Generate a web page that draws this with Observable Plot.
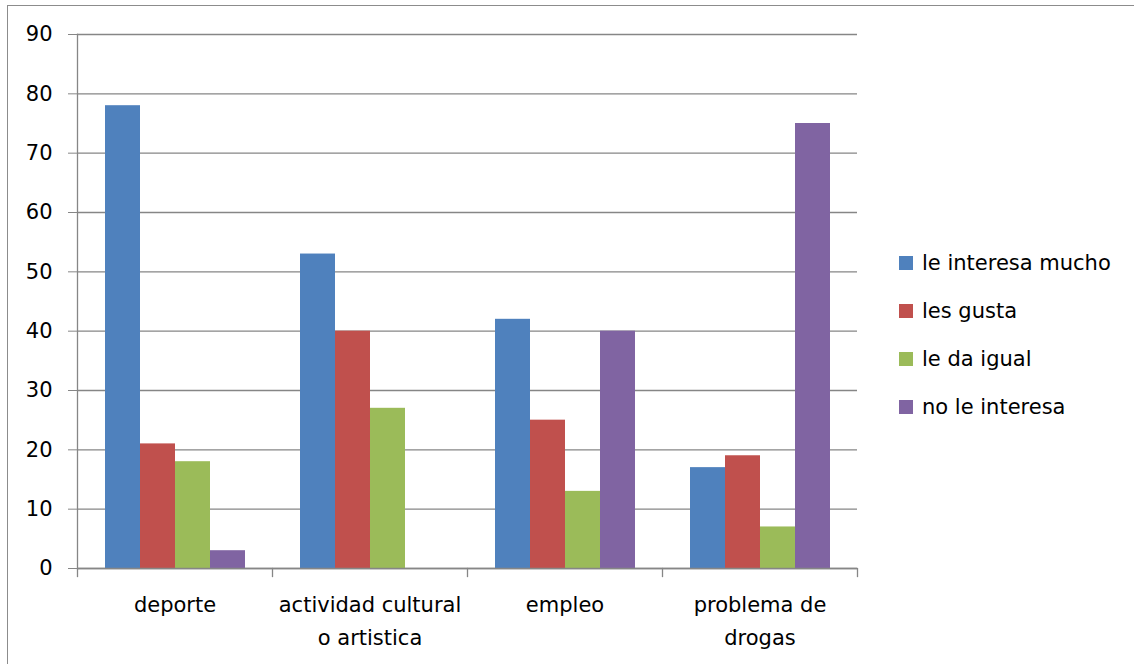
<!DOCTYPE html>
<html>
<head>
<meta charset="utf-8">
<script src="https://cdn.jsdelivr.net/npm/d3@7"></script>
<script src="https://cdn.jsdelivr.net/npm/@observablehq/plot@0.6"></script>
<style>
  html, body { margin: 0; padding: 0; background: #fff; overflow: hidden; }
  #wrap { position: relative; width: 1134px; height: 664px; }
  #border { position: absolute; left: 7px; top: 5px; width: 1140px; height: 670px;
            border-left: 1.5px solid #8c8c8c; border-top: 1.5px solid #8c8c8c; box-sizing: border-box; }
  #chart { position: absolute; left: 0; top: 0; }
  #legend { position: absolute; left: 899px; top: 239px; font-family: "DejaVu Sans", sans-serif; font-size: 21px; color: #000; }
  .item { display: flex; align-items: center; height: 48px; }
  .sw { width: 14px; height: 14px; margin-right: 9px; }
</style>
</head>
<body>
<div id="wrap">
  <div id="border"></div>
  <div id="chart"></div>
  <div id="legend"></div>
</div>
<script>
const categories = ["deporte", "actividad cultural o artistica", "empleo", "problema de drogas"];
const tickLabels = ["deporte", "actividad cultural\no artistica", "empleo", "problema de\ndrogas"];
const series = ["le interesa mucho", "les gusta", "le da igual", "no le interesa"];
const leInteresaMucho = [78, 53, 42, 17];
const lesGusta = [21, 40, 25, 19];
const leDaIgual = [18, 27, 13, 7];
const noLeInteresa = [3, 0, 40, 75];
const colors = ["#4F81BD", "#C0504D", "#9BBB59", "#8064A2"];
const yTicks = [0, 10, 20, 30, 40, 50, 60, 70, 80, 90];

const valuesBySeries = [leInteresaMucho, lesGusta, leDaIgual, noLeInteresa];
const rows = [];
categories.forEach((c, i) => {
  series.forEach((s, j) => rows.push({category: c, series: s, value: valuesBySeries[j][i]}));
});

const gray = "#868686";
const chart = Plot.plot({
  width: 1134,
  height: 664,
  marginLeft: 77,
  marginRight: 277,
  marginTop: 34,
  marginBottom: 96,
  style: {fontFamily: "DejaVu Sans, sans-serif", fontSize: "21px", color: "#000", background: "transparent", overflow: "visible"},
  fx: {domain: categories, padding: 0},
  x: {domain: series, paddingInner: 0, paddingOuter: 0.75, axis: null},
  y: {domain: [0, 90]},
  color: {domain: series, range: colors},
  marks: [
    Plot.gridY(yTicks, {stroke: gray, strokeOpacity: 1, strokeWidth: 1.3}),
    Plot.barY(rows, {fx: "category", x: "series", y: "value", fill: "series"}),
    Plot.ruleY([0], {stroke: gray, strokeWidth: 1.3}),
    Plot.frame({anchor: "left", facetAnchor: "left", stroke: gray, strokeWidth: 1.3}),
    Plot.frame({anchor: "left", insetTop: 534, insetBottom: -8, stroke: gray, strokeWidth: 1.3}),
    Plot.frame({anchor: "right", facetAnchor: "right", insetTop: 534, insetBottom: -8, stroke: gray, strokeWidth: 1.3}),
    Plot.axisY(yTicks, {tickSize: 9, tickPadding: 16, stroke: gray, fill: "#000", label: null, fontSize: 21}),
    Plot.axisFx({anchor: "bottom", tickSize: 0, tickPadding: 20, lineHeight: 1.57, fontSize: 21, fill: "#000",
      tickFormat: (c) => tickLabels[categories.indexOf(c)], label: null})
  ]
});
document.getElementById("chart").appendChild(chart);

const legend = document.getElementById("legend");
series.forEach((s, j) => {
  const item = document.createElement("div");
  item.className = "item";
  const sw = document.createElement("div");
  sw.className = "sw";
  sw.style.background = colors[j];
  const label = document.createElement("span");
  label.textContent = s;
  item.appendChild(sw);
  item.appendChild(label);
  legend.appendChild(item);
});
</script>
</body>
</html>
